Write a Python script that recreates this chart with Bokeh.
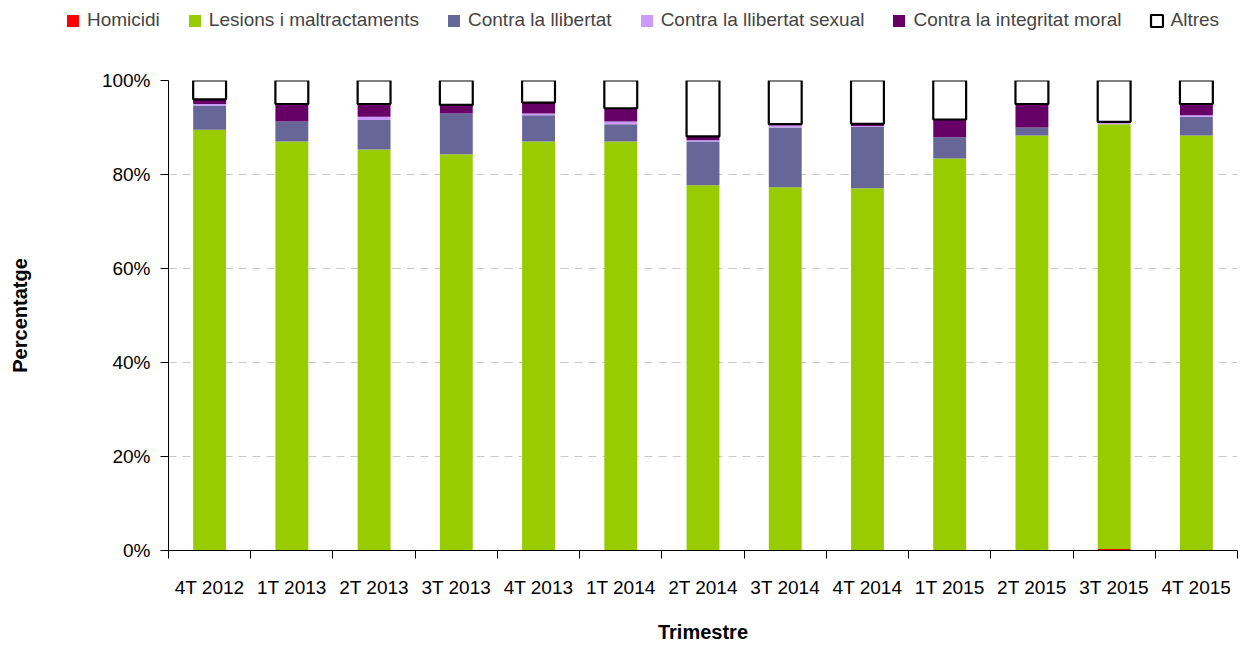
from bokeh.plotting import figure
from bokeh.layouts import column, row
from bokeh.models import (ColumnDataSource, FixedTicker, NumeralTickFormatter, Legend,
                          LegendItem, Range1d, Grid)
from bokeh.embed import file_html
from bokeh.resources import INLINE

categories = ["4T 2012", "1T 2013", "2T 2013", "3T 2013", "4T 2013", "1T 2014", "2T 2014",
              "3T 2014", "4T 2014", "1T 2015", "2T 2015", "3T 2015", "4T 2015"]
homicidi = [0.0, 0.0, 0.0, 0.0, 0.0, 0.0, 0.0, 0.0, 0.0, 0.0, 0.0, 0.3, 0.0]
lesions = [89.5, 87.0, 85.3, 84.3, 87.0, 87.0, 77.7, 77.3, 77.1, 83.4, 88.3, 90.4, 88.3]
llibertat = [5.2, 4.3, 6.3, 8.7, 5.6, 3.7, 9.3, 12.7, 13.0, 4.5, 1.7, 0.0, 4.0]
sexual = [0.3, 0.0, 0.7, 0.0, 0.4, 0.6, 0.3, 0.5, 0.2, 0.0, 0.0, 0.5, 0.3]
moral = [1.0, 3.7, 2.7, 1.8, 2.3, 2.8, 0.8, 0.2, 0.5, 3.8, 5.0, 0.0, 2.4]
altres = [4.0, 5.0, 5.0, 5.2, 4.7, 5.9, 11.9, 9.3, 9.2, 8.3, 5.0, 8.8, 5.0]

series_names = ["Homicidi", "Lesions i maltractaments", "Contra la llibertat",
                "Contra la llibertat sexual", "Contra la integritat moral", "Altres"]
keys = ["homicidi", "lesions", "llibertat", "sexual", "moral", "altres"]
colors = ["#FF0000", "#99CC00", "#666699", "#CC99FF", "#660066", "#FFFFFF"]

n = len(categories)
xs = [i + 0.5 for i in range(n)]
data = dict(x=xs)
for k, vals in zip(keys, [homicidi, lesions, llibertat, sexual, moral, altres]):
    data[k] = [v / 100.0 for v in vals]
src = ColumnDataSource(data)

FONT = "Liberation Sans"
line_colors = [None] * 5 + ["#000000"]
line_widths = [0] * 5 + [2.2]

p = figure(width=1239, height=605, output_backend="svg", toolbar_location=None,
           x_range=Range1d(0, n), y_range=Range1d(0, 1),
           min_border_left=168, min_border_right=2, min_border_top=40, min_border_bottom=94)

p.vbar_stack(keys, x="x", width=0.4, source=src, fill_color=colors,
             line_color=line_colors, line_width=line_widths)

# axes
xa = p.xaxis[0]
xa.ticker = FixedTicker(ticks=xs, minor_ticks=list(range(n + 1)))
xa.major_label_overrides = {x: c for x, c in zip(xs, categories)}
xa.major_tick_line_color = None
xa.major_tick_out = 8
xa.minor_tick_out = 8
xa.minor_tick_in = 0
xa.minor_tick_line_color = "#000000"
xa.major_label_standoff = 18
xa.major_label_text_font = FONT
xa.major_label_text_font_size = "19px"
xa.major_label_text_color = "#000000"
xa.axis_label = "Trimestre"
xa.axis_label_text_font = FONT
xa.axis_label_text_font_style = "bold"
xa.axis_label_text_font_size = "20px"
xa.axis_label_text_color = "#000000"
xa.axis_label_standoff = 20
xa.axis_line_color = "#000000"

ya = p.yaxis[0]
ya.ticker = FixedTicker(ticks=[0, 0.2, 0.4, 0.6, 0.8, 1.0])
ya.formatter = NumeralTickFormatter(format="0%")
ya.minor_tick_line_color = None
ya.major_tick_out = 8
ya.major_tick_in = 0
ya.major_label_standoff = 10
ya.major_label_text_font = FONT
ya.major_label_text_font_size = "19px"
ya.major_label_text_color = "#000000"
ya.axis_label = "Percentatge"
ya.axis_label_text_font = FONT
ya.axis_label_text_font_style = "bold"
ya.axis_label_text_font_size = "20px"
ya.axis_label_text_color = "#000000"
ya.axis_label_standoff = 68
ya.axis_line_color = "#000000"

p.xgrid.grid_line_color = None
p.ygrid.ticker = FixedTicker(ticks=[0.2, 0.4, 0.6, 0.8])
p.ygrid.grid_line_color = "#C8C8C8"
p.ygrid.grid_line_dash = "8 6"
p.ygrid.grid_line_width = 1
top_grid = Grid(dimension=1, ticker=FixedTicker(ticks=[1.0]), grid_line_color="#999999",
                grid_line_width=2)
p.add_layout(top_grid)
p.outline_line_color = None

# legend strip: its own small figure; its swatch renderers are hidden
lf = figure(width=1239, height=40, output_backend="svg", toolbar_location=None,
            x_range=Range1d(0, n), y_range=Range1d(0, 1),
            x_axis_location=None, y_axis_location=None, min_border=0)
lf.grid.grid_line_color = None
lf.outline_line_color = None
leg_renderers = lf.vbar_stack(keys, x="x", width=0.4, source=src, fill_color=colors,
                              line_color=line_colors, line_width=line_widths)
for r in leg_renderers:
    r.visible = False
items = [LegendItem(label=nm, renderers=[r]) for nm, r in zip(series_names, leg_renderers)]
legend = Legend(items=items, orientation="horizontal", location=(65, 9),
                label_text_font=FONT, label_text_font_size="19px",
                glyph_width=15, glyph_height=15, label_standoff=7, spacing=27,
                inactive_fill_alpha=0,
                border_line_color=None, background_fill_alpha=0, padding=0, margin=0)
lf.add_layout(legend, "center")

layout = column(row(lf), p, spacing=0)
open("out.html", "w").write(file_html(layout, INLINE))
